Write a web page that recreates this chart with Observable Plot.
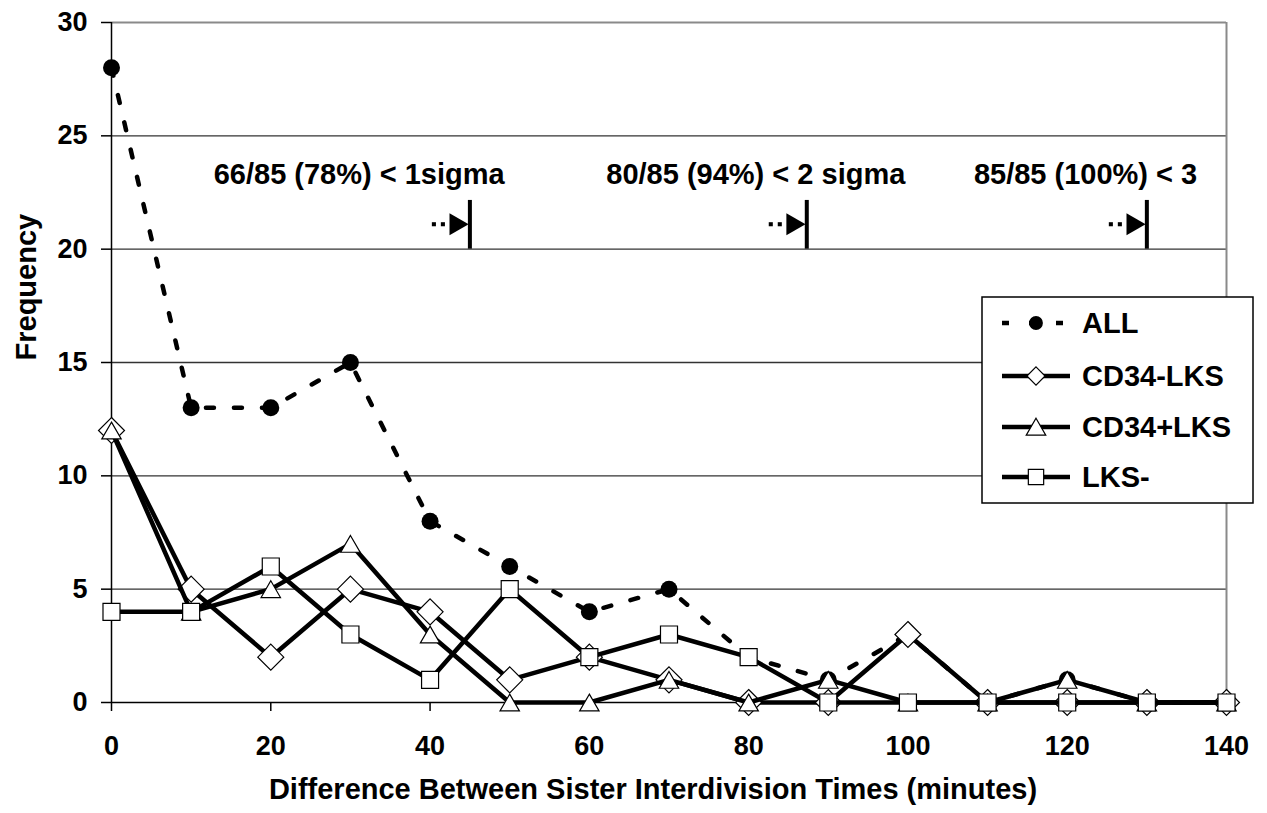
<!DOCTYPE html>
<html>
<head>
<meta charset="utf-8">
<script src="https://cdn.jsdelivr.net/npm/d3@7"></script>
<script src="https://cdn.jsdelivr.net/npm/@observablehq/plot@0.6"></script>
<style>
  html, body { margin: 0; padding: 0; background: #fff; }
  #chart { width: 1267px; height: 813px; }
</style>
</head>
<body>
<div id="chart"></div>
<script>
// ---- data ----
const minutes  = [0, 10, 20, 30, 40, 50, 60, 70, 80, 90, 100, 110, 120, 130, 140];
const allVals  = [28, 13, 13, 15, 8, 6, 4, 5, 2, 1, 3, 0, 1, 0, 0];
const cd34Neg  = [12, 5, 2, 5, 4, 1, 2, 1, 0, 0, 3, 0, 0, 0, 0];
const cd34Pos  = [12, 4, 5, 7, 3, 0, 0, 1, 0, 1, 0, 0, 1, 0, 0];
const lksNeg   = [4, 4, 6, 3, 1, 5, 2, 3, 2, 0, 0, 0, 0, 0, 0];

const seriesNames = ["ALL", "CD34-LKS", "CD34+LKS", "LKS-"];
const xTicks = [0, 20, 40, 60, 80, 100, 120, 140];
const yTicks = [0, 5, 10, 15, 20, 25, 30];

// sigma annotations
const sigmaX      = [45, 87.3, 130];
const sigmaLabels = ["66/85 (78%) < 1sigma", "80/85 (94%) < 2 sigma", "85/85 (100%) < 3"];
const labelX      = [31.1, 80.9, 122.3];
const labelY      = 23.3;
const arrowTop    = 22.15;
const arrowBase   = 20;
const arrowMid    = 21.1;

const toRows = vals => minutes.map((m, i) => ({x: m, y: vals[i]}));
const rowsAll = toRows(allVals);
const rowsNeg = toRows(cd34Neg);
const rowsPos = toRows(cd34Pos);
const rowsLks = toRows(lksNeg);
const annRows = sigmaLabels.map((t, i) => ({x: labelX[i], y: labelY, t}));

const FONT = "'Liberation Sans', Arial, Helvetica, sans-serif";

const svg = Plot.plot({
  width: 1267,
  height: 813,
  marginLeft: 111,
  marginRight: 41,
  marginTop: 22,
  marginBottom: 111,
  style: {fontFamily: FONT, fontWeight: "bold", background: "#fff", color: "#000", overflow: "visible"},
  x: {domain: [0, 140]},
  y: {domain: [0, 30]},
  marks: [
    // gridlines & frame
    Plot.ruleY([5, 10, 15, 20, 25], {stroke: "#333", strokeWidth: 1.3}),
    Plot.ruleY([30], {stroke: "#8a8a8a", strokeWidth: 2}),
    Plot.ruleX([140], {stroke: "#8a8a8a", strokeWidth: 2}),
    Plot.ruleX([0], {stroke: "#000", strokeWidth: 1.5}),
    Plot.ruleY([0], {stroke: "#000", strokeWidth: 1.5}),
    Plot.axisY({ticks: yTicks, tickSize: 10, tickPadding: 14, fontSize: 27, fontWeight: "bold", label: null, stroke: "#000", strokeWidth: 1.5}),
    Plot.axisX({ticks: xTicks, tickSize: 9, tickPadding: 24, fontSize: 27, fontWeight: "bold", label: null, stroke: "#000", strokeWidth: 1.5}),
    // axis titles
    Plot.text(["Difference Between Sister Interdivision Times (minutes)"], {frameAnchor: "bottom", dy: 96, dx: -16, fontSize: 29, fontWeight: "bold", fill: "#000"}),
    Plot.text(["Frequency"], {frameAnchor: "left", rotate: -90, dx: -85, dy: -2, fontSize: 29, fontWeight: "bold", fill: "#000"}),
    // annotations
    Plot.text(annRows, {x: "x", y: "y", text: "t", fontSize: 29, fontWeight: "bold", fill: "#000"}),
    Plot.ruleX(sigmaX, {y1: arrowBase, y2: arrowTop, stroke: "#000", strokeWidth: 4}),
    Plot.dot(sigmaX, {x: d => d, y: arrowMid, symbol: "triangle", rotate: 90, r: 8.2, fill: "#000", stroke: "none", dx: -14}),
    Plot.dot(sigmaX, {x: d => d, y: arrowMid, symbol: "square", r: 2.3, fill: "#000", stroke: "none", dx: -27}),
    Plot.dot(sigmaX, {x: d => d, y: arrowMid, symbol: "square", r: 2.3, fill: "#000", stroke: "none", dx: -36}),
    // series
    Plot.line(rowsAll, {x: "x", y: "y", stroke: "#000", strokeWidth: 4.5, strokeDasharray: "8,20"}),
    Plot.dot(rowsAll, {x: "x", y: "y", symbol: "circle", r: 8.5, fill: "#000", stroke: "none"}),
    Plot.line(rowsNeg, {x: "x", y: "y", stroke: "#000", strokeWidth: 4.5, strokeLinejoin: "round"}),
    Plot.dot(rowsNeg, {x: "x", y: "y", symbol: "diamond2", r: 11.7, fill: "#fff", stroke: "#000", strokeWidth: 1.2}),
    Plot.line(rowsPos, {x: "x", y: "y", stroke: "#000", strokeWidth: 4.5, strokeLinejoin: "round"}),
    Plot.dot(rowsPos, {x: "x", y: "y", symbol: "triangle", r: 7.2, dy: 2.8, fill: "#fff", stroke: "#000", strokeWidth: 1.2}),
    Plot.line(rowsLks, {x: "x", y: "y", stroke: "#000", strokeWidth: 4.5, strokeLinejoin: "round"}),
    Plot.dot(rowsLks, {x: "x", y: "y", symbol: "square", r: 9.6, fill: "#fff", stroke: "#000", strokeWidth: 1.2})
  ]
});

// ---- legend (inside the plot area, boxed) ----
const g = d3.select(svg).append("g").attr("font-family", FONT).attr("font-weight", "bold")
  .attr("text-anchor", "start");
g.append("rect").attr("x", 982).attr("y", 297).attr("width", 271).attr("height", 206)
  .attr("fill", "#fff").attr("stroke", "#000").attr("stroke-width", 1.5);
const rowY = [323, 376, 427, 477];
const lx1 = 1002, lx2 = 1070, mx = 1036, tx = 1082;
seriesNames.forEach((name, i) => {
  const y = rowY[i];
  const line = g.append("line").attr("x1", lx1).attr("x2", lx2).attr("y1", y).attr("y2", y)
    .attr("stroke", "#000").attr("stroke-width", 4.5);
  if (i === 0) line.attr("stroke-dasharray", "7,20");
  const sym = [d3.symbolCircle, d3.symbolDiamond2, d3.symbolTriangle, d3.symbolSquare][i];
  const size = [150, 210, 165, 235][i];
  const off = i === 2 ? 2.5 : 0;
  g.append("path").attr("d", d3.symbol(sym, size)())
    .attr("transform", `translate(${mx},${y + off})`)
    .attr("fill", i === 0 ? "#000" : "#fff").attr("stroke", i === 0 ? "none" : "#000").attr("stroke-width", 1.2);
  g.append("text").attr("x", tx).attr("y", y).attr("dy", "0.36em").attr("text-anchor", "start")
    .attr("font-size", 29).attr("fill", "#000").text(name);
});

document.getElementById("chart").appendChild(svg);
</script>
</body>
</html>
